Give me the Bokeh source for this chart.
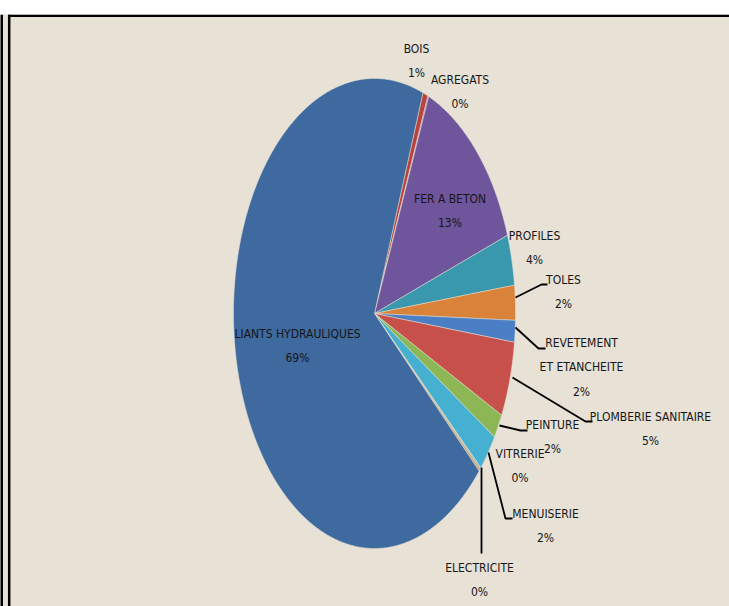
import numpy as np
from bokeh.plotting import figure
from bokeh.models import Range1d
from bokeh.core.properties import value
from bokeh.embed import file_html
from bokeh.resources import INLINE

# ---- data (clockwise order, starting at the BOIS slice) ----
categories = ["BOIS", "AGREGATS", "FER A BETON", "PROFILES", "TOLES",
              "REVETEMENT ET ETANCHEITE", "PLOMBERIE SANITAIRE", "PEINTURE",
              "MENUISERIE", "VITRERIE", "ELECTRICITE", "LIANTS HYDRAULIQUES"]
values = [0.6, 0.1, 13.4, 3.5, 2.4, 1.5, 5.2, 1.7, 2.6, 0.1, 0.2, 69.3]
pct_labels = ["1%", "0%", "13%", "4%", "2%", "2%", "5%", "2%", "2%", "0%", "0%", "69%"]
name_lines = [["BOIS"], ["AGREGATS"], ["FER A BETON"], ["PROFILES"], ["TOLES"],
              ["REVETEMENT", "ET ETANCHEITE"], ["PLOMBERIE SANITAIRE"], ["PEINTURE"],
              ["MENUISERIE"], ["VITRERIE"], ["ELECTRICITE"], ["LIANTS HYDRAULIQUES"]]
colors = ["#B8423C", "#7E5FA0", "#6F559C", "#3A98AE", "#D8823A", "#4A7EC5",
          "#C8504B", "#8DB655", "#45B0CF", "#5BB9D9", "#D4A574", "#3E6A9F"]

# ---- layout ----
CX, CY, RX, RY = 374, 313, 141, 235
START_DEG = 20.1
label_pos = [(416, 48), (459.5, 79), (449.5, 198), (534, 235), (563, 279),
             (581, 342), (650, 416), (552, 424), (545, 513), (519.5, 453),
             (479, 567), (297, 333)]
leaders = {
    "TOLES": [(515, 297), (541, 284), (547, 284)],
    "REVETEMENT ET ETANCHEITE": [(515, 327), (538, 348), (545, 348)],
    "PLOMBERIE SANITAIRE": [(512, 377), (585, 421), (592, 421)],
    "PEINTURE": [(499, 425), (520, 430), (527, 430)],
    "MENUISERIE": [(488, 452), (505, 518), (512, 518)],
    "ELECTRICITE": [(481, 467), (481, 553)],
}

p = figure(width=729, height=606, output_backend="svg", toolbar_location=None,
           x_range=Range1d(0, 729), y_range=Range1d(606, 14),
           x_axis_location=None, y_axis_location=None,
           min_border_left=0, min_border_right=0, min_border_top=14, min_border_bottom=0)
p.grid.visible = False
p.background_fill_color = "#e7e1d6"
p.border_fill_color = "white"
p.outline_line_color = None

# slices
total = float(sum(values))
xs, ys = [], []
a = START_DEG
for v in values:
    span = v / total * 360.0
    t = np.radians(np.linspace(a, a + span, max(3, int(span * 2) + 2)))
    xs.append([CX] + list(CX + RX * np.sin(t)) + [CX])
    ys.append([CY] + list(CY - RY * np.cos(t)) + [CY])
    a += span
p.patches(xs, ys, fill_color=colors, line_color="#e9e2d4", line_width=0.7, line_alpha=0.7)

# leader lines
p.multi_line([[pt[0] for pt in pts] for pts in leaders.values()],
             [[pt[1] for pt in pts] for pts in leaders.values()],
             line_color="black", line_width=1.8)

# labels
tx, ty, tt = [], [], []
for (x0, y0), lines, pct in zip(label_pos, name_lines, pct_labels):
    for k, ln in enumerate(lines + [pct]):
        tx.append(x0)
        ty.append(y0 + 24.5 * k)
        tt.append(ln)
p.text(tx, ty, text=tt, text_align="center", text_baseline="middle",
       text_font=value("DejaVu Sans Condensed"), text_font_size="12px",
       text_color="#161616")

# border (black strip at far left, top and left edges of the box)
p.line([8, 729], [15.2, 15.2], line_color="black", line_width=2.5)
p.line([8.7, 8.7], [14, 606], line_color="black", line_width=2.5)
p.line([1, 1], [14, 606], line_color="black", line_width=3)

open("out.html", "w").write(file_html(p, INLINE))
